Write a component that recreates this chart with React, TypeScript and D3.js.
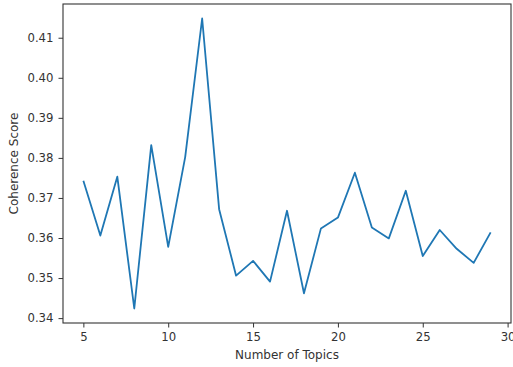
import { useEffect, useRef } from "react";
import * as d3 from "d3";

const topics = [5, 6, 7, 8, 9, 10, 11, 12, 13, 14, 15, 16, 17, 18, 19, 20, 21, 22, 23, 24, 25, 26, 27, 28, 29];
const coherence = [
  0.3743, 0.3606, 0.3753, 0.3424, 0.3832, 0.3578, 0.3802, 0.4148, 0.3672, 0.3506,
  0.3543, 0.3491, 0.3668, 0.3462, 0.3624, 0.3651, 0.3763, 0.3626, 0.3599, 0.3718,
  0.3555, 0.362, 0.3573, 0.3538, 0.3614,
];
const xTicks = [5, 10, 15, 20, 25, 30];
const yTicks = [0.34, 0.35, 0.36, 0.37, 0.38, 0.39, 0.4, 0.41];

const width = 513;
const height = 367;
const margin = { top: 4, right: 2, bottom: 44, left: 63 };

const padded = (lo: number, hi: number): [number, number] => {
  const p = (hi - lo) * 0.05;
  return [lo - p, hi + p];
};

const App = () => {
  const ref = useRef<SVGSVGElement>(null);

  useEffect(() => {
    const svg = d3.select(ref.current);
    svg.selectAll("*").remove();

    const x = d3.scaleLinear()
      .domain(padded(d3.min(topics)!, d3.max(topics)!))
      .range([margin.left, width - margin.right]);
    const y = d3.scaleLinear()
      .domain(padded(d3.min(coherence)!, d3.max(coherence)!))
      .range([height - margin.bottom, margin.top]);

    const font = "DejaVu Sans";

    const gx = svg.append("g")
      .attr("transform", `translate(0,${height - margin.bottom})`)
      .call(d3.axisBottom(x).tickValues(xTicks).tickSize(4.5).tickPadding(5).tickFormat(d3.format("d")));
    const gy = svg.append("g")
      .attr("transform", `translate(${margin.left},0)`)
      .call(d3.axisLeft(y).tickValues(yTicks).tickSize(4.5).tickPadding(5).tickFormat(d3.format(".2f")));

    for (const g of [gx, gy]) {
      g.select(".domain").remove();
      g.selectAll("line").attr("stroke", "#333").attr("stroke-width", 1);
      g.selectAll("text")
        .attr("fill", "#333")
        .style("font-family", font)
        .style("font-size", "11.7px");
    }

    // frame
    svg.append("rect")
      .attr("x", margin.left)
      .attr("y", margin.top)
      .attr("width", width - margin.left - margin.right)
      .attr("height", height - margin.top - margin.bottom)
      .attr("fill", "none")
      .attr("stroke", "#333")
      .attr("stroke-width", 1.1);

    const line = d3.line<number>()
      .x((_, i) => x(topics[i]))
      .y((d) => y(d));

    svg.append("path")
      .datum(coherence)
      .attr("d", line)
      .attr("fill", "none")
      .attr("stroke", "#1f77b4")
      .attr("stroke-width", 1.8)
      .attr("stroke-linejoin", "round");

    svg.append("text")
      .attr("x", (margin.left + width - margin.right) / 2)
      .attr("y", 359)
      .attr("text-anchor", "middle")
      .attr("fill", "#333")
      .style("font-family", font)
      .style("font-size", "12px")
      .text("Number of Topics");

    svg.append("text")
      .attr("transform", `translate(18,${(margin.top + height - margin.bottom) / 2}) rotate(-90)`)
      .attr("text-anchor", "middle")
      .attr("fill", "#333")
      .style("font-family", font)
      .style("font-size", "12px")
      .text("Coherence Score");
  }, []);

  return (
    <div style={{ position: "absolute", left: 0, top: 0 }}>
      <svg ref={ref} width={width} height={height} style={{ display: "block", background: "#fff" }} />
    </div>
  );
};

export default App;
